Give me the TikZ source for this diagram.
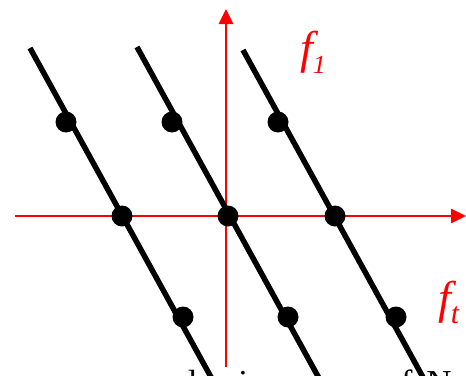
\documentclass[tikz,border=0pt]{standalone}
\usepackage{fontspec}
\setmainfont{Liberation Serif}
\usetikzlibrary{arrows.meta}
\begin{document}
\begin{tikzpicture}[x=1pt,y=-1pt,
  axis/.style={draw=red, line width=2.6pt, -{Triangle[length=15pt,width=14pt]}},
  bline/.style={line width=5.5pt},
  dot/.style={circle, fill=black, inner sep=0pt, minimum size=21pt},
  lab/.style={text=red, font=\fontsize{46}{46}\selectfont\itshape, inner sep=0pt, anchor=base west},
  sub/.style={font=\fontsize{27}{27}\selectfont\itshape},
  bottomtext/.style={font=\fontsize{35}{35}\selectfont, inner sep=0pt, anchor=base west}]
\useasboundingbox (0,0) rectangle (466,375);
% axes
\coordinate (xs) at (15,216);
\coordinate (xe) at (466,216);
\coordinate (ys) at (226,367);
\coordinate (ye) at (226,9);
\draw[axis] (xs) -- (xe);
\draw[axis] (ys) -- (ye);
% black lines
\coordinate (t1) at (30,48);
\coordinate (b1) at (212.6,380);
\coordinate (t2) at (137,47);
\coordinate (b2) at (320,380);
\coordinate (t3) at (243,50);
\coordinate (b3) at (424.5,380);
\draw[bline] (t1) -- (b1);
\draw[bline] (t2) -- (b2);
\draw[bline] (t3) -- (b3);
% dots
\node[dot] (d11) at (66,122) {};
\node[dot] (d12) at (172,122) {};
\node[dot] (d13) at (278,122) {};
\node[dot] (d21) at (122,216) {};
\node[dot] (d22) at (228,216) {};
\node[dot] (d23) at (335,216) {};
\node[dot] (d31) at (183,317) {};
\node[dot] (d32) at (288,317) {};
\node[dot] (d33) at (396,317) {};
% labels
\node[lab] (f1) at (300,63) {f\raisebox{-10pt}{\fontsize{26}{26}\selectfont 1}};
\node[lab] (ft) at (438,313) {f\raisebox{-10pt}{\fontsize{30}{30}\selectfont t}};
% cut-off text at the bottom
\node[bottomtext] (btext) at (179,394) {due in a sense of\hspace{0.4em}N};
\end{tikzpicture}
\end{document}
